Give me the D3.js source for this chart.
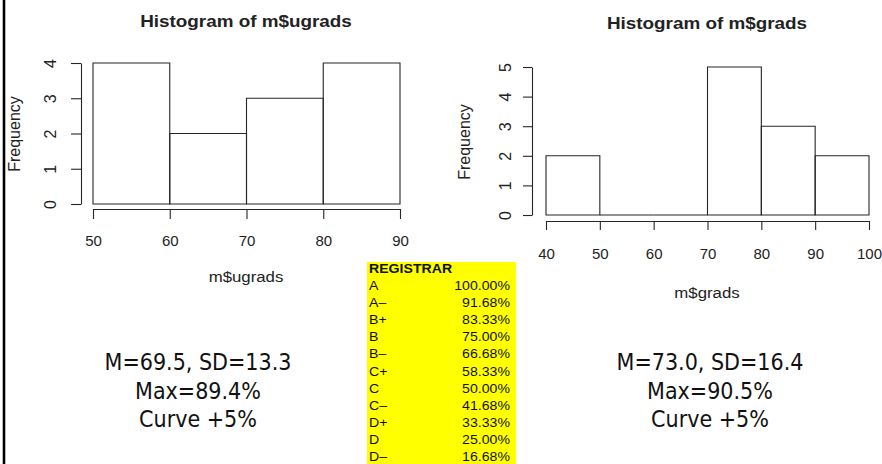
<!DOCTYPE html>
<html>
<head>
<meta charset="utf-8">
<script src="https://cdn.jsdelivr.net/npm/d3@7"></script>
<style>
  body { margin: 0; background: #fff; }
  svg { display: block; }
  .rtxt { font-family: "Liberation Sans", Arial, sans-serif; fill: #222; }
  .stat { font-family: "DejaVu Sans Condensed", "DejaVu Sans", sans-serif; font-stretch: condensed; fill: #111; }
  .reg  { font-family: "Liberation Sans", Arial, sans-serif; fill: #111; }
</style>
</head>
<body>
<div id="chart"></div>
<script>
// DATA
const ugradBreaks = [50, 60, 70, 80, 90];
const ugradCounts = [4, 2, 3, 4];
const ugradYTicks = [0, 1, 2, 3, 4];

const gradBreaks = [40, 50, 60, 70, 80, 90, 100];
const gradCounts = [2, 0, 0, 5, 3, 2];
const gradYTicks = [0, 1, 2, 3, 4, 5];

const regGrades = ['A', 'A\u2013', 'B+', 'B', 'B\u2013', 'C+', 'C', 'C\u2013', 'D+', 'D', 'D\u2013'];
const regPcts   = ['100.00%', '91.68%', '83.33%', '75.00%', '66.68%', '58.33%', '50.00%', '41.68%', '33.33%', '25.00%', '16.68%'];

const ugradStats = ['M=69.5, SD=13.3', 'Max=89.4%', 'Curve +5%'];
const gradStats  = ['M=73.0, SD=16.4', 'Max=90.5%', 'Curve +5%'];

//CANVAS
const W = 882, H = 464;
const STROKE = '#262626';
const SX = 1.12;   // source picture is a bit wider than tall

const svg = d3.select('#chart').append('svg')
  .attr('width', W).attr('height', H);

// left border of the slide
svg.append('line')
  .attr('x1', 4).attr('x2', 4).attr('y1', 0).attr('y2', H)
  .attr('stroke', '#000').attr('stroke-width', 2.6);

function label(g, x, y, txt, size, opts) {
  opts = opts || {};
  const t = g.append('text')
    .attr('class', opts.cls || 'rtxt')
    .attr('text-anchor', opts.anchor || 'middle')
    .attr('font-size', size)
    .attr('font-weight', opts.bold ? 'bold' : 'normal')
    .attr('transform', opts.rotate
        ? `translate(${x},${y}) rotate(-90)`
        : `translate(${x},${y}) scale(${opts.sx || SX},1)`)
    .text(txt);
  return t;
}

// HISTOGRAM
function drawHist(cfg) {
  const g = svg.append('g');
  const x = d3.scaleLinear().domain(d3.extent(cfg.breaks)).range(cfg.xr);
  const y = d3.scaleLinear().domain([0, d3.max(cfg.yTicks)]).range(cfg.yr);

  const bins = cfg.counts.map((c, i) => ({ x0: cfg.breaks[i], x1: cfg.breaks[i + 1], n: c }));

  // drawn as closed paths so that empty bins still show as a flat line
  g.selectAll('path.bar').data(bins).join('path')
    .attr('class', 'bar')
    .attr('d', d => {
      const p = d3.path();
      p.rect(x(d.x0), y(d.n), x(d.x1) - x(d.x0), y(0) - y(d.n));
      return p.toString();
    })
    .attr('fill', 'none')
    .attr('stroke', STROKE).attr('stroke-width', 1.1);

  // x axis, below the bars as R does it
  const gx = g.append('g')
    .attr('transform', `translate(0,${cfg.xAxisY})`)
    .call(d3.axisBottom(x).tickValues(cfg.breaks).tickSize(cfg.tick).tickSizeOuter(0).tickPadding(0));
  gx.select('.domain').attr('stroke', STROKE).attr('stroke-width', 1.1);
  gx.selectAll('.tick line').attr('stroke', STROKE).attr('stroke-width', 1.1);
  gx.selectAll('.tick text')
    .attr('class', 'rtxt')
    .attr('font-size', 15)
    .attr('y', cfg.xLabDy).attr('dy', null);

  // y axis, left of the bars
  const gy = g.append('g')
    .attr('transform', `translate(${cfg.yAxisX},0)`)
    .call(d3.axisLeft(y).tickValues(cfg.yTicks).tickFormat(d3.format('d')).tickSize(cfg.tick).tickSizeOuter(0));
  gy.select('.domain').attr('stroke', STROKE).attr('stroke-width', 1.1);
  gy.selectAll('.tick line').attr('stroke', STROKE).attr('stroke-width', 1.1);
  gy.selectAll('.tick text')
    .attr('class', 'rtxt')
    .attr('font-size', 16)
    .attr('x', 0).attr('dy', null)
    .attr('y', -cfg.yLabDx)
    .attr('text-anchor', 'middle')
    .attr('transform', 'rotate(-90)');

  label(g, cfg.titleX, cfg.titleY, cfg.title, 16, { bold: true, sx: 1.18 });
  label(g, cfg.titleX, cfg.xLabY, cfg.xlab, 15);
  label(g, cfg.freqX, cfg.freqY, 'Frequency', 16, { rotate: true });
}

drawHist({
  breaks: ugradBreaks, counts: ugradCounts, yTicks: ugradYTicks,
  xr: [93, 400], yr: [204, 63],
  xAxisY: 209, yAxisX: 81, tick: 10,
  xLabDy: 37, yLabDx: 25,
  title: 'Histogram of m$ugrads', titleX: 246, titleY: 27,
  xlab: 'm$ugrads', xLabY: 282,
  freqX: 20, freqY: 134
});

drawHist({
  breaks: gradBreaks, counts: gradCounts, yTicks: gradYTicks,
  xr: [546, 869], yr: [215, 67],
  xAxisY: 221, yAxisX: 532, tick: 9,
  xLabDy: 38, yLabDx: 21,
  title: 'Histogram of m$grads', titleX: 707, titleY: 29,
  xlab: 'm$grads', xLabY: 298,
  freqX: 470, freqY: 142
});

// REGISTRAR TABLE
const reg = svg.append('g');
const rowY = d3.scalePoint().domain(d3.range(regGrades.length + 1)).range([273, 461]);
reg.append('rect')
  .attr('x', 367).attr('y', 262).attr('width', 149).attr('height', H - 262)
  .attr('fill', '#ffff00');
label(reg, 369, rowY(0), 'REGISTRAR', 12.5, { cls: 'reg', anchor: 'start', bold: true, sx: 1.13 });
regGrades.forEach((gr, i) => {
  label(reg, 369, rowY(i + 1), gr, 12.5, { cls: 'reg', anchor: 'start', sx: 1.13 });
  label(reg, 510, rowY(i + 1), regPcts[i], 12.5, { cls: 'reg', anchor: 'end', sx: 1.13 });
});

// SUMMARY TEXT
const statY = d3.scalePoint().domain([0, 1, 2]).range([370, 427]);
ugradStats.forEach((s, i) => label(svg, 198, statY(i), s, 23, { cls: 'stat', sx: 1 }));
gradStats.forEach((s, i)  => label(svg, 710, statY(i), s, 23, { cls: 'stat', sx: 1 }));
</script>
</body>
</html>
